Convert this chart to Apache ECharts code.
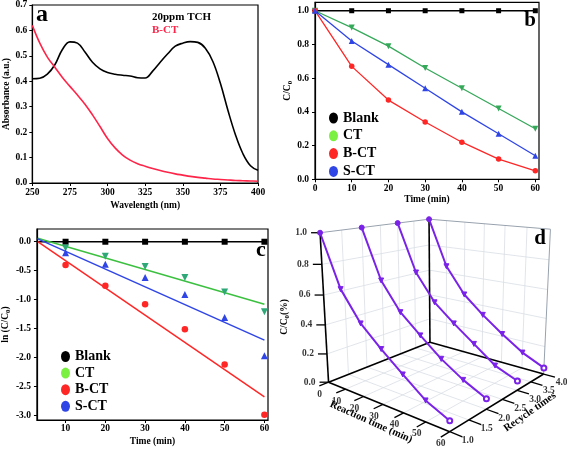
<!DOCTYPE html>
<html><head><meta charset="utf-8">
<script src="https://cdn.jsdelivr.net/npm/echarts@6/dist/echarts.min.js"></script>
<style>html,body{margin:0;padding:0;background:#fff}#c{width:567px;height:450px}</style>
</head><body><div id="c"></div>
<script>
// ---------- Panel a ----------
const wavelength = [250,255,260,265,270,275,280,285,290,295,300,305,310,315,320,325,330,335,340,345,350,355,360,365,370,375,380,385,390,395,400];
const absTCH = [0.41,0.412,0.428,0.465,0.525,0.555,0.55,0.515,0.475,0.449,0.435,0.428,0.424,0.421,0.414,0.413,0.44,0.475,0.508,0.538,0.55,0.556,0.553,0.53,0.478,0.392,0.286,0.19,0.115,0.068,0.05];
const absBCT = [0.62,0.55,0.495,0.455,0.415,0.38,0.346,0.31,0.268,0.222,0.175,0.138,0.11,0.09,0.076,0.066,0.057,0.049,0.042,0.036,0.031,0.026,0.022,0.019,0.016,0.014,0.012,0.01,0.009,0.008,0.007];
const aXTicks = [250,275,300,325,350,375,400];
const aYTicks = [0,0.1,0.2,0.3,0.4,0.5,0.6,0.7];
// ---------- Panel b ----------
const timeB = [0,10,20,30,40,50,60];
const bBlank = [1,1,1,1,1,1,1];
const bCT  = [1.0,0.90,0.79,0.66,0.54,0.42,0.30];
const bBCT = [1.0,0.67,0.47,0.34,0.22,0.12,0.05];
const bSCT = [1.0,0.82,0.68,0.54,0.40,0.27,0.14];
const bXTicks = [0,10,20,30,40,50,60];
const bYTicks = [0,0.2,0.4,0.6,0.8,1.0];
// ---------- Panel c ----------
const timeC = [10,20,30,40,50,60];
const cBlank = [0,0,0,0,0,0];
const cCT  = [-0.11,-0.25,-0.43,-0.62,-0.87,-1.21];
const cBCT = [-0.40,-0.76,-1.08,-1.51,-2.12,-2.99];
const cSCT = [-0.19,-0.39,-0.62,-0.91,-1.31,-1.97];
const fitT = [3,60];
const fitBlank = [0,0];
const fitCT  = [0.06,-1.08];
const fitBCT = [0.0,-2.68];
const fitSCT = [0.05,-1.70];
const cXTicks = [10,20,30,40,50,60];
const cYTicks = [0,-0.5,-1.0,-1.5,-2.0,-2.5,-3.0];
// ---------- Panel d ----------
const dTime = [0,10,20,30,40,50,60];
const dCycles = [1,2,3,4];
const dRun1 = [1,0.665,0.478,0.354,0.24,0.131,0.065];
const dRun2 = [1,0.66,0.472,0.349,0.232,0.139,0.067];
const dRun3 = [1,0.659,0.467,0.346,0.236,0.125,0.064];
const dRun4 = [1,0.652,0.457,0.329,0.217,0.116,0.045];
const dTimeTicks = [0,10,20,30,40,50,60];
const dRecycleTicks = [1.0,1.5,2.0,2.5,3.0,3.5,4.0];
const dValueTicks = [0,0.2,0.4,0.6,0.8,1.0];

const F = 'Liberation Serif, Times New Roman, serif';
const GREEN = '#36a85a', LGREEN = '#7cf040', RED = '#ff2626', BLUE = '#2f45e6', PURPLE = '#7a22e8', ARED = '#ff2448';

// ---- perspective camera for panel d, fitted to the box corners ----
function solveCamera(){
  const ref = [
    [0,0,0,329.3,381],[0,0,1,320,231],[0,0,0.2,327.3,355.3],[0,0,0.4,325,325.3],[0,0,0.6,323.3,295.3],[0,0,0.8,322,265],
    [0,1,0,429,342.7],[0,1,1,429,219],[1,1,0,545,373],[1,1,1,550,230],[1,0,0,448.5,432],
    [0,1/3,1,362.3,227.3],[0,2/3,1,397.7,223.3]
  ];
  const cu=430, cv=320, N=11;
  const M = Array.from({length:N},()=>new Array(N).fill(0)); const B = new Array(N).fill(0);
  const add=(row,rhs)=>{for(let i=0;i<N;i++){B[i]+=row[i]*rhs;for(let j=0;j<N;j++)M[i][j]+=row[i]*row[j];}};
  ref.forEach(([X,Y,Z,u,v])=>{u-=cu;v-=cv;
    add([X,Y,Z,1,0,0,0,0,-u*X,-u*Y,-u*Z],u);
    add([0,0,0,0,X,Y,Z,1,-v*X,-v*Y,-v*Z],v);});
  for(let k=0;k<N;k++){let p=k;for(let i=k+1;i<N;i++)if(Math.abs(M[i][k])>Math.abs(M[p][k]))p=i;
    [M[k],M[p]]=[M[p],M[k]];[B[k],B[p]]=[B[p],B[k]];
    for(let i=k+1;i<N;i++){const f=M[i][k]/M[k][k];for(let j=k;j<N;j++)M[i][j]-=f*M[k][j];B[i]-=f*B[k];}}
  const x=new Array(N).fill(0);
  for(let i=N-1;i>=0;i--){let s=B[i];for(let j=i+1;j<N;j++)s-=M[i][j]*x[j];x[i]=s/M[i][i];}
  return p3=>{const X=p3[0]/60,Y=(p3[1]-1)/3,Z=p3[2];const w=x[8]*X+x[9]*Y+x[10]*Z+1;
    return [(x[0]*X+x[1]*Y+x[2]*Z+x[3])/w+cu,(x[4]*X+x[5]*Y+x[6]*Z+x[7])/w+cv];};
}
const project = solveCamera();
const SEG_STYLES = [{color:'#d9dee5',width:0.8,z:6},{color:'#98a2ad',width:1,z:7},{color:'#000000',width:1.6,z:8},{color:'#000000',width:1.3,z:8}];
const segs=[];
const seg=(a,b,s)=>{segs.push({pts:[project(a),project(b)],s});};
[10,20,30,40,50].forEach(t=>{seg([t,1,0],[t,4,0],0);seg([t,4,0],[t,4,1],0);});
[1.5,2,2.5,3,3.5].forEach(r=>{seg([0,r,0],[60,r,0],0);seg([0,r,0],[0,r,1],0);});
[0.2,0.4,0.6,0.8].forEach(v=>{seg([0,1,v],[0,4,v],0);seg([0,4,v],[60,4,v],0);});
seg([0,1,1],[0,4,1],1);seg([0,4,1],[60,4,1],1);seg([60,4,0],[60,4,1],1);
seg([0,1,0],[0,1,1],2);seg([0,4,0],[0,4,1],2);seg([0,1,0],[0,4,0],2);seg([0,4,0],[60,4,0],2);seg([0,1,0],[60,1,0],2);seg([60,1,0],[60,4,0],2);
dTimeTicks.forEach(t=>seg([t,1,0],[t,0.78,0],3));
dRecycleTicks.forEach(r=>seg([60,r,0],[65,r,0],3));
dValueTicks.forEach(v=>{const p=project([0,1,v]);segs.push({pts:[p,[p[0]-9,p[1]]],s:3});});
const segSeries = segs.map((g,i)=>({
  type:'line', name:'seg'+i, xAxisIndex:3, yAxisIndex:3, z:SEG_STYLES[g.s].z,
  data:g.pts.map(p=>({value:p})), showSymbol:false, symbolSize:0,
  lineStyle:{color:SEG_STYLES[g.s].color,width:SEG_STYLES[g.s].width,opacity:1},
  itemStyle:{color:SEG_STYLES[g.s].color}, silent:true, animation:false
}));

const runs=[dRun1,dRun2,dRun3,dRun4];
const curveSeries = runs.map((run,k)=>({
  type:'line', name:'run'+k, xAxisIndex:3, yAxisIndex:3, z:10,
  data: dTime.map((t,i)=>({value:project([t,dCycles[k],run[i]]),
     symbol: i===0?'circle':(i===dTime.length-1?'emptyCircle':'triangle'),
     symbolRotate: (i>0&&i<dTime.length-1)?180:0})),
  symbolSize:5, lineStyle:{color:PURPLE,width:2}, itemStyle:{color:PURPLE,borderColor:PURPLE,borderWidth:1},
  silent:true, animation:false
}));

const lblStyle = {show:true,fontFamily:F,fontWeight:'bold',fontSize:9.5,color:'#000',formatter:'{b}'};
const labelS=(data,label)=>({type:'scatter',xAxisIndex:3,yAxisIndex:3,symbolSize:0,data,label:Object.assign({},lblStyle,label),silent:true,animation:false,z:11});

const axisCommon = (gi)=>({gridIndex:gi, axisLine:{onZero:false,lineStyle:{color:'#000',width:1.2}},
  axisTick:{length:3,lineStyle:{color:'#000',width:1}}, splitLine:{show:false}});
const lab = (extra)=>Object.assign({color:'#000',fontFamily:F,fontWeight:'bold',fontSize:9.5},extra);
const nameTS = {color:'#000',fontFamily:F,fontWeight:'bold',fontSize:9.5,
  rich:{a:{fontFamily:F,fontWeight:'bold',fontSize:9.5,color:'#000'},s:{fontFamily:F,fontWeight:'bold',fontSize:7,color:'#000',padding:[5,0,0,0]}}};

const ellipse = 'path://M5,0A5,5 0 1,1 5,10A5,5 0 1,1 5,0Z';
const legendData = [
  {name:'Blank',itemStyle:{color:'#000'}},{name:'CT',itemStyle:{color:LGREEN}},
  {name:'B-CT',itemStyle:{color:RED}},{name:'S-CT',itemStyle:{color:BLUE}}];
const legendBase = {orient:'vertical',itemWidth:9,itemHeight:11,icon:ellipse,symbolKeepAspect:false,
  selectedMode:false,textStyle:{fontFamily:F,fontWeight:'bold',fontSize:14,color:'#000'},data:legendData};

const pair=(xs,ys)=>xs.map((x,i)=>[x,ys[i]]);
const option = {
  animation:false,
  grid:[
    {left:32.3,top:5,width:225.7,height:178,show:true,borderColor:'#000',borderWidth:1.2},
    {left:315,top:2.3,width:224,height:177,show:true,borderColor:'#000',borderWidth:1.2},
    {left:30.7,top:229,width:237.3,height:191,show:true,borderColor:'#000',borderWidth:1.2},
    {left:0,top:0,width:567,height:450}
  ],
  xAxis:[
    Object.assign(axisCommon(0),{type:'value',min:250,max:400,axisLabel:lab({margin:5,customValues:aXTicks}),axisTick:{length:3,customValues:aXTicks,lineStyle:{color:'#000'}},
      name:'Wavelength (nm)',nameLocation:'middle',nameGap:18,nameTextStyle:nameTS}),
    Object.assign(axisCommon(1),{type:'value',min:0,max:61,axisLabel:lab({margin:4,customValues:bXTicks}),axisTick:{length:3,customValues:bXTicks,lineStyle:{color:'#000'}},
      name:'Time (min)',nameLocation:'middle',nameGap:15,nameTextStyle:nameTS}),
    Object.assign(axisCommon(2),{type:'value',min:2.8,max:60.9,axisLabel:lab({margin:4,customValues:cXTicks}),axisTick:{length:3,customValues:cXTicks,lineStyle:{color:'#000'}},
      name:'Time (min)',nameLocation:'middle',nameGap:17,nameTextStyle:nameTS}),
    {gridIndex:3,type:'value',min:0,max:567,show:false}
  ],
  yAxis:[
    Object.assign(axisCommon(0),{type:'value',min:0,max:0.7,axisLabel:lab({margin:5,customValues:aYTicks,formatter:v=>v.toFixed(1)}),axisTick:{length:3,customValues:aYTicks,lineStyle:{color:'#000'}},
      name:'Absorbance (a.u.)',nameLocation:'middle',nameGap:21,nameTextStyle:nameTS}),
    Object.assign(axisCommon(1),{type:'value',min:0,max:1.05,axisLabel:lab({margin:6,customValues:bYTicks,formatter:v=>v.toFixed(1)}),axisTick:{length:3,customValues:bYTicks,lineStyle:{color:'#000'}},
      name:'{a|C/C}{s|0}',nameLocation:'middle',nameGap:18,nameTextStyle:nameTS}),
    Object.assign(axisCommon(2),{type:'value',min:-3.08,max:0.22,axisLabel:lab({margin:6,customValues:cYTicks,formatter:v=>v.toFixed(1)}),axisTick:{length:3,customValues:cYTicks,lineStyle:{color:'#000'}},
      name:'{a|ln (C/C}{s|0}{a|)}',nameLocation:'middle',nameGap:20,nameTextStyle:nameTS}),
    {gridIndex:3,type:'value',min:0,max:450,inverse:true,show:false}
  ],
  legend:[
    Object.assign({left:324,top:106,itemGap:3.8},legendBase),
    Object.assign({left:56,top:344.5,itemGap:2.6},legendBase)
  ],
  series:[
    {type:'line',name:'20ppm TCH',xAxisIndex:0,yAxisIndex:0,data:pair(wavelength,absTCH),smooth:0.4,showSymbol:false,lineStyle:{color:'#000',width:1.6},itemStyle:{color:'#000'}},
    {type:'line',name:'B-CT a',xAxisIndex:0,yAxisIndex:0,data:pair(wavelength,absBCT),smooth:0.4,showSymbol:false,lineStyle:{color:ARED,width:1.6},itemStyle:{color:ARED}},
    {type:'line',name:'Blank',xAxisIndex:1,yAxisIndex:1,data:pair(timeB,bBlank),symbol:'rect',symbolSize:5,lineStyle:{color:'#000',width:1.3},itemStyle:{color:'#000'}},
    {type:'line',name:'CT',xAxisIndex:1,yAxisIndex:1,data:pair(timeB,bCT),symbol:'triangle',symbolRotate:180,symbolSize:6,lineStyle:{color:GREEN,width:1.3},itemStyle:{color:GREEN}},
    {type:'line',name:'B-CT',xAxisIndex:1,yAxisIndex:1,data:pair(timeB,bBCT),symbol:'circle',symbolSize:5.5,lineStyle:{color:RED,width:1.3},itemStyle:{color:RED}},
    {type:'line',name:'S-CT',xAxisIndex:1,yAxisIndex:1,data:pair(timeB,bSCT),symbol:'triangle',symbolSize:6,lineStyle:{color:BLUE,width:1.3},itemStyle:{color:BLUE}},
    {type:'line',name:'fitBlank',xAxisIndex:2,yAxisIndex:2,data:pair(fitT,fitBlank),showSymbol:false,lineStyle:{color:'#000',width:1.5}},
    {type:'line',name:'fitCT',xAxisIndex:2,yAxisIndex:2,data:pair(fitT,fitCT),showSymbol:false,lineStyle:{color:'#3cc040',width:1.5}},
    {type:'line',name:'fitBCT',xAxisIndex:2,yAxisIndex:2,data:pair(fitT,fitBCT),showSymbol:false,lineStyle:{color:RED,width:1.5}},
    {type:'line',name:'fitSCT',xAxisIndex:2,yAxisIndex:2,data:pair(fitT,fitSCT),showSymbol:false,lineStyle:{color:BLUE,width:1.5}},
    {type:'scatter',name:'Blank',xAxisIndex:2,yAxisIndex:2,data:pair(timeC,cBlank),symbol:'rect',symbolSize:6,itemStyle:{color:'#000',opacity:1},z:3},
    {type:'scatter',name:'CT',xAxisIndex:2,yAxisIndex:2,data:pair(timeC,cCT),symbol:'triangle',symbolRotate:180,symbolSize:7,itemStyle:{color:'#2fa878',opacity:1},z:3},
    {type:'scatter',name:'B-CT',xAxisIndex:2,yAxisIndex:2,data:pair(timeC,cBCT),symbol:'circle',symbolSize:6.5,itemStyle:{color:RED,opacity:1},z:3},
    {type:'scatter',name:'S-CT',xAxisIndex:2,yAxisIndex:2,data:pair(timeC,cSCT),symbol:'triangle',symbolSize:7,itemStyle:{color:BLUE,opacity:1},z:3},
    ...segSeries,
    ...curveSeries,
    labelS(dValueTicks.map(v=>({value:project([0,1,v]),name:v.toFixed(1)})),{position:'left',distance:13}),
    labelS(dTimeTicks.map(t=>({value:project([t,1,0]),name:String(t)})),{position:'inside',offset:[-9,12]}),
    labelS(dRecycleTicks.map(r=>({value:project([60,r,0]),name:r.toFixed(1)})),{position:'inside',offset:[18,9]})
  ],
  graphic:[
    {type:'text',x:42,y:15,style:{text:'a',font:'bold 24px '+F,fill:'#000',align:'center',verticalAlign:'middle'}},
    {type:'text',x:152,y:17,style:{text:'20ppm TCH',font:'bold 11px '+F,fill:'#000',align:'left',verticalAlign:'middle'}},
    {type:'text',x:152,y:30,style:{text:'B-CT',font:'bold 11px '+F,fill:ARED,align:'left',verticalAlign:'middle'}},
    {type:'text',x:530,y:21,style:{text:'b',font:'bold 21px '+F,fill:'#000',align:'center',verticalAlign:'middle'}},
    {type:'text',x:261,y:250,style:{text:'c',font:'bold 22px '+F,fill:'#000',align:'center',verticalAlign:'middle'}},
    {type:'text',x:540,y:239,style:{text:'d',font:'bold 21px '+F,fill:'#000',align:'center',verticalAlign:'middle'}},
    {type:'text',x:371,y:422,rotation:-24*Math.PI/180,style:{text:'Reaction time (min)',font:'bold 10.5px '+F,fill:'#000',align:'center',verticalAlign:'middle'}},
    {type:'text',x:530,y:412,rotation:35*Math.PI/180,style:{text:'Recycle times',font:'bold 10.5px '+F,fill:'#000',align:'center',verticalAlign:'middle'}},
    {type:'text',x:285,y:317,rotation:Math.PI/2,style:{text:'{a|C/C}{s|0}{a|(%)}',align:'center',verticalAlign:'middle',
      rich:{a:{font:'bold 9.5px '+F,fill:'#000'},s:{font:'bold 7px '+F,fill:'#000',padding:[5,0,0,0]}}}}
  ]
};
echarts.init(document.getElementById('c'),null,{renderer:'canvas'}).setOption(option);
</script></body></html>
